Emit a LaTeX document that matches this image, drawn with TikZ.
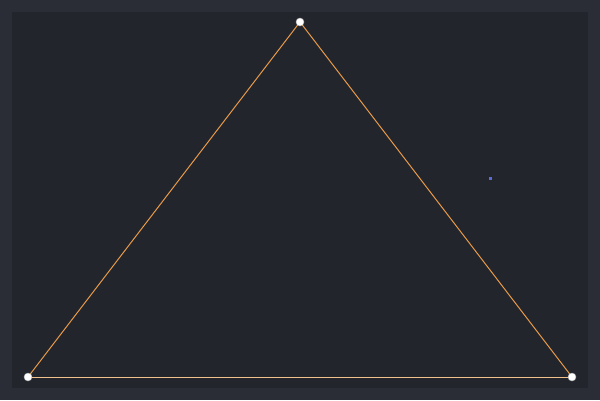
\documentclass[tikz,border=0pt]{standalone}
\definecolor{outerbg}{HTML}{2A2D35}
\definecolor{innerbg}{HTML}{22252B}
\definecolor{edgeor}{HTML}{E89A48}
\definecolor{baseor}{HTML}{F2C08A}
\definecolor{dotblue}{HTML}{5C6BD6}
\begin{document}
\begin{tikzpicture}[x=1pt,y=-1pt,
  vert/.style={circle,fill=white,draw=gray!60,line width=0.4pt,minimum size=8pt,inner sep=0pt},
  edge/.style={draw=edgeor,line width=1pt},
  base/.style={draw=baseor,line width=1pt}]
\fill[outerbg] (0,0) rectangle (600,400);
\useasboundingbox (0,0) rectangle (600,400);
\fill[innerbg] (12,12) rectangle (588,388);
\coordinate (A) at (300,22);
\coordinate (B) at (28,377);
\coordinate (C) at (572,377);
\draw[edge] (A) -- (B);
\draw[edge] (A) -- (C);
\draw[base] (B) -- (C);
\node[vert] (nA) at (A) {};
\node[vert] (nB) at (B) {};
\node[vert] (nC) at (C) {};
\fill[dotblue] (488.5,176.5) rectangle (491.5,179.5);
\end{tikzpicture}
\end{document}
